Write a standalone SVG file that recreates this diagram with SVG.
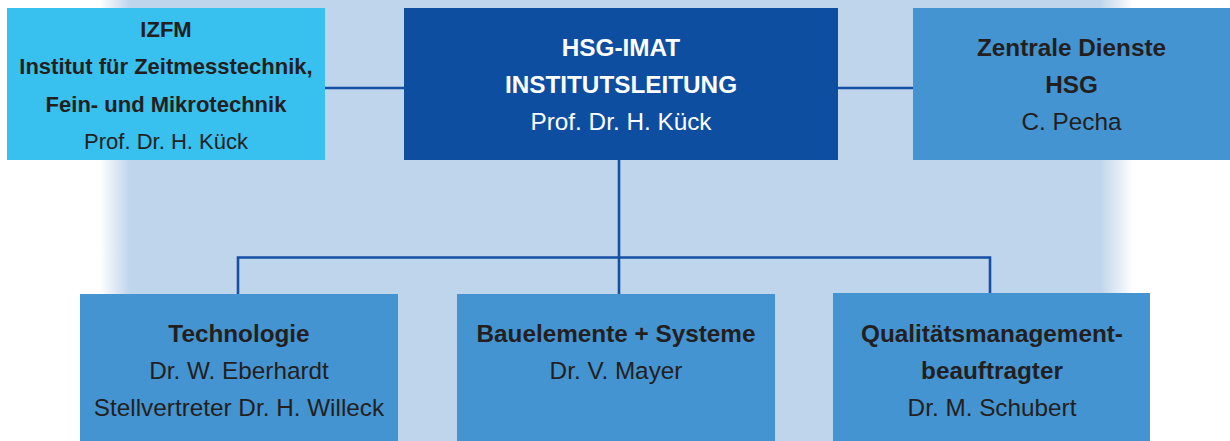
<svg xmlns="http://www.w3.org/2000/svg" width="1230" height="441" viewBox="0 0 1230 441">
  <defs>
    <linearGradient id="panelFade" x1="0" y1="0" x2="1230" y2="0" gradientUnits="userSpaceOnUse">
      <stop offset="0.0813" stop-color="#ffffff"/>
      <stop offset="0.0935" stop-color="#dfe9f5"/>
      <stop offset="0.1057" stop-color="#bed5ec"/>
      <stop offset="0.8943" stop-color="#bed5ec"/>
      <stop offset="0.9077" stop-color="#dfe9f5"/>
      <stop offset="0.9211" stop-color="#ffffff"/>
    </linearGradient>
  </defs>
  <style>
    text { font-family: "Liberation Sans", Arial, sans-serif; text-anchor: middle; fill: #231f20; }
    .b { font-weight: bold; }
    .s21 { font-size: 22px; }
    .s24 { font-size: 24.3px; }
    .w { fill: #ffffff; }
    .lead { fill: #0d4ea1; }
    .inst { fill: #38c0ef; }
    .unit { fill: #4394d0; }
    .conn { stroke: #1450a3; stroke-width: 2.6; fill: none; }
  </style>

  <!-- background panel with faded side edges -->
  <rect x="0" y="0" width="1230" height="441" fill="url(#panelFade)"/>

  <!-- connectors -->
  <g id="connectors">
    <line class="conn" x1="325" y1="88" x2="404" y2="88"/>
    <line class="conn" x1="838" y1="88" x2="913" y2="88"/>
    <line class="conn" x1="619" y1="160" x2="619" y2="294"/>
    <polyline class="conn" points="238,294 238,257.5 990,257.5 990,293"/>
  </g>

  <g id="izfm">
    <rect class="inst" x="7" y="8" width="318" height="152"/>
    <text class="b s21" x="166" y="37">IZFM</text>
    <text class="b s21" x="166" y="74">Institut für Zeitmesstechnik,</text>
    <text class="b s21" x="166" y="112">Fein- und Mikrotechnik</text>
    <text class="s21" x="166" y="149">Prof. Dr. H. Kück</text>
  </g>

  <g id="institutsleitung">
    <rect class="lead" x="404" y="8" width="434" height="152"/>
    <text class="b s24 w" x="621" y="56">HSG-IMAT</text>
    <text class="b s24 w" x="621" y="93">INSTITUTSLEITUNG</text>
    <text class="s24 w" x="621" y="130">Prof. Dr. H. Kück</text>
  </g>

  <g id="zentrale-dienste">
    <rect class="unit" x="913" y="8" width="317" height="152"/>
    <text class="b s24" x="1071.5" y="56">Zentrale Dienste</text>
    <text class="b s24" x="1071.5" y="93">HSG</text>
    <text class="s24" x="1071.5" y="130">C. Pecha</text>
  </g>

  <g id="technologie">
    <rect class="unit" x="80" y="294" width="318" height="147"/>
    <text class="b s24" x="239" y="342">Technologie</text>
    <text class="s24" x="239" y="379">Dr. W. Eberhardt</text>
    <text class="s24" x="239" y="416">Stellvertreter Dr. H. Willeck</text>
  </g>

  <g id="bauelemente">
    <rect class="unit" x="457" y="294" width="318" height="147"/>
    <text class="b s24" x="616" y="342">Bauelemente + Systeme</text>
    <text class="s24" x="616" y="379">Dr. V. Mayer</text>
  </g>

  <g id="qualitaetsmanagement">
    <rect class="unit" x="833" y="293" width="317" height="148"/>
    <text class="b s24" x="992" y="342">Qualitätsmanagement-</text>
    <text class="b s24" x="992" y="379">beauftragter</text>
    <text class="s24" x="992" y="416">Dr. M. Schubert</text>
  </g>
</svg>
